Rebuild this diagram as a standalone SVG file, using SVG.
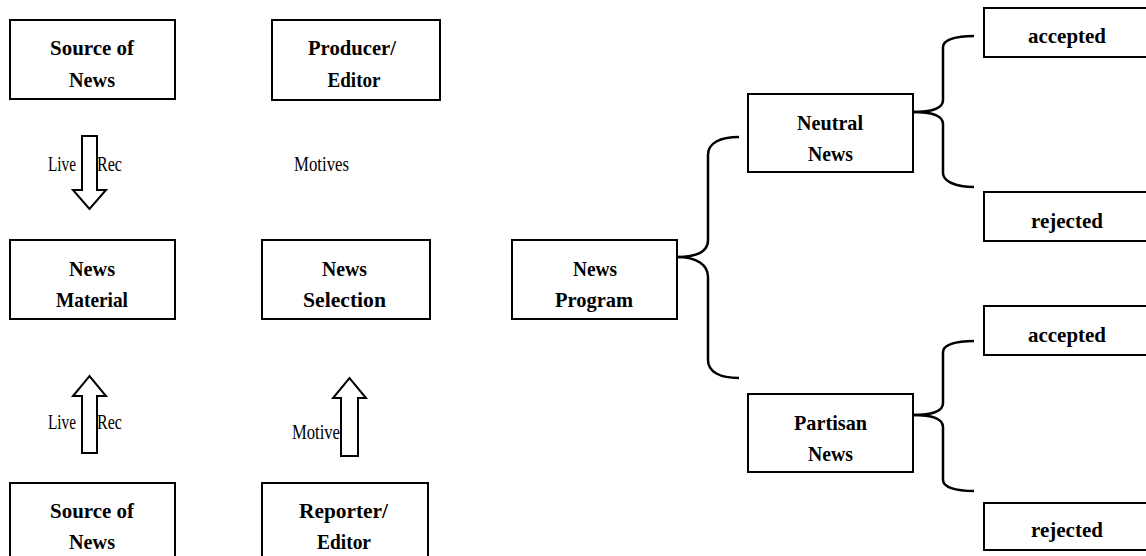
<svg xmlns="http://www.w3.org/2000/svg" width="1146" height="556" viewBox="0 0 1146 556">
<style>
.box{fill:#fff;stroke:#000;stroke-width:2}
.t{font-family:"Liberation Serif","Times New Roman",serif;font-weight:bold;font-size:22px;text-anchor:middle;fill:#000}
.l{font-family:"Liberation Serif","Times New Roman",serif;font-size:21px;fill:#000}
.arr{fill:#fff;stroke:#000;stroke-width:2;stroke-linejoin:miter}
.br{fill:none;stroke:#000;stroke-width:2.5}
</style>
<rect width="1146" height="556" fill="#fff"/>
<g id="connectors">
<path class="arr" d="M82,136 H97 V190 H106 L89.5,209 L73,190 H82 Z"/>
<path class="arr" d="M82,453 V396 H73 L89.5,376 L106,396 H97 V453 Z"/>
<path class="arr" d="M341,456 V398 H333 L349.5,378 L366,398 H358 V456 Z"/>
<path class="br" d="M677,257 C697,257 708,252 708,240 V155 C708,143 720,137 739,137"/>
<path class="br" d="M677,257 C697,257 708,265 708,277 V360 C708,372 720,378 739,378"/>
<path class="br" d="M913,112 C933,112 943,108 943,100 V47 C943,40 955,36 974,36"/>
<path class="br" d="M913,112 C933,112 943,116 943,124 V173 C943,181 955,187 974,187"/>
<path class="br" d="M913,415 C933,415 943,411 943,403 V352 C943,345 955,341 974,341"/>
<path class="br" d="M913,415 C933,415 943,419 943,427 V480 C943,487 955,491 974,491"/>
<text class="l" x="48" y="171" textLength="28" lengthAdjust="spacingAndGlyphs">Live</text>
<text class="l" x="97" y="171" textLength="25" lengthAdjust="spacingAndGlyphs">Rec</text>
<text class="l" x="294" y="171" textLength="55" lengthAdjust="spacingAndGlyphs">Motives</text>
<text class="l" x="48" y="429" textLength="28" lengthAdjust="spacingAndGlyphs">Live</text>
<text class="l" x="97" y="429" textLength="25" lengthAdjust="spacingAndGlyphs">Rec</text>
<text class="l" x="292" y="439" textLength="48" lengthAdjust="spacingAndGlyphs">Motive</text>
</g>
<g id="source-top">
<rect class="box" x="10" y="20" width="165" height="79"/>
<text class="t" x="92" y="55" textLength="84" lengthAdjust="spacingAndGlyphs">Source of</text>
<text class="t" x="92" y="87" textLength="46" lengthAdjust="spacingAndGlyphs">News</text>
</g>
<g id="producer">
<rect class="box" x="272" y="20" width="168" height="80"/>
<text class="t" x="352" y="55" textLength="88" lengthAdjust="spacingAndGlyphs">Producer/</text>
<text class="t" x="354" y="87" textLength="53" lengthAdjust="spacingAndGlyphs">Editor</text>
</g>
<g id="news-material">
<rect class="box" x="10" y="240" width="165" height="79"/>
<text class="t" x="92" y="276" textLength="46" lengthAdjust="spacingAndGlyphs">News</text>
<text class="t" x="92" y="307" textLength="72" lengthAdjust="spacingAndGlyphs">Material</text>
</g>
<g id="news-selection">
<rect class="box" x="262" y="240" width="168" height="79"/>
<text class="t" x="344.5" y="276" textLength="45" lengthAdjust="spacingAndGlyphs">News</text>
<text class="t" x="344.5" y="307" textLength="83" lengthAdjust="spacingAndGlyphs">Selection</text>
</g>
<g id="source-bottom">
<rect class="box" x="10" y="483" width="165" height="80"/>
<text class="t" x="92" y="518" textLength="84" lengthAdjust="spacingAndGlyphs">Source of</text>
<text class="t" x="92" y="549" textLength="46" lengthAdjust="spacingAndGlyphs">News</text>
</g>
<g id="reporter">
<rect class="box" x="262" y="483" width="166" height="80"/>
<text class="t" x="343.5" y="518" textLength="89" lengthAdjust="spacingAndGlyphs">Reporter/</text>
<text class="t" x="344" y="549" textLength="54" lengthAdjust="spacingAndGlyphs">Editor</text>
</g>
<g id="news-program">
<rect class="box" x="512" y="240" width="165" height="79"/>
<text class="t" x="595" y="276" textLength="44" lengthAdjust="spacingAndGlyphs">News</text>
<text class="t" x="594" y="307" textLength="78" lengthAdjust="spacingAndGlyphs">Program</text>
</g>
<g id="neutral-news">
<rect class="box" x="748" y="94" width="165" height="78"/>
<text class="t" x="830" y="130" textLength="66" lengthAdjust="spacingAndGlyphs">Neutral</text>
<text class="t" x="830.5" y="161" textLength="45" lengthAdjust="spacingAndGlyphs">News</text>
</g>
<g id="partisan-news">
<rect class="box" x="748" y="394" width="165" height="78"/>
<text class="t" x="830.5" y="430" textLength="73" lengthAdjust="spacingAndGlyphs">Partisan</text>
<text class="t" x="830.5" y="461" textLength="45" lengthAdjust="spacingAndGlyphs">News</text>
</g>
<g id="accepted-1">
<rect class="box" x="984" y="8" width="170" height="49"/>
<text class="t" x="1067" y="43" textLength="78" lengthAdjust="spacingAndGlyphs">accepted</text>
</g>
<g id="rejected-1">
<rect class="box" x="984" y="192" width="170" height="49"/>
<text class="t" x="1067" y="228" textLength="72" lengthAdjust="spacingAndGlyphs">rejected</text>
</g>
<g id="accepted-2">
<rect class="box" x="984" y="306" width="170" height="49"/>
<text class="t" x="1067" y="342" textLength="78" lengthAdjust="spacingAndGlyphs">accepted</text>
</g>
<g id="rejected-2">
<rect class="box" x="984" y="503" width="170" height="47"/>
<text class="t" x="1067" y="537" textLength="72" lengthAdjust="spacingAndGlyphs">rejected</text>
</g>
</svg>
